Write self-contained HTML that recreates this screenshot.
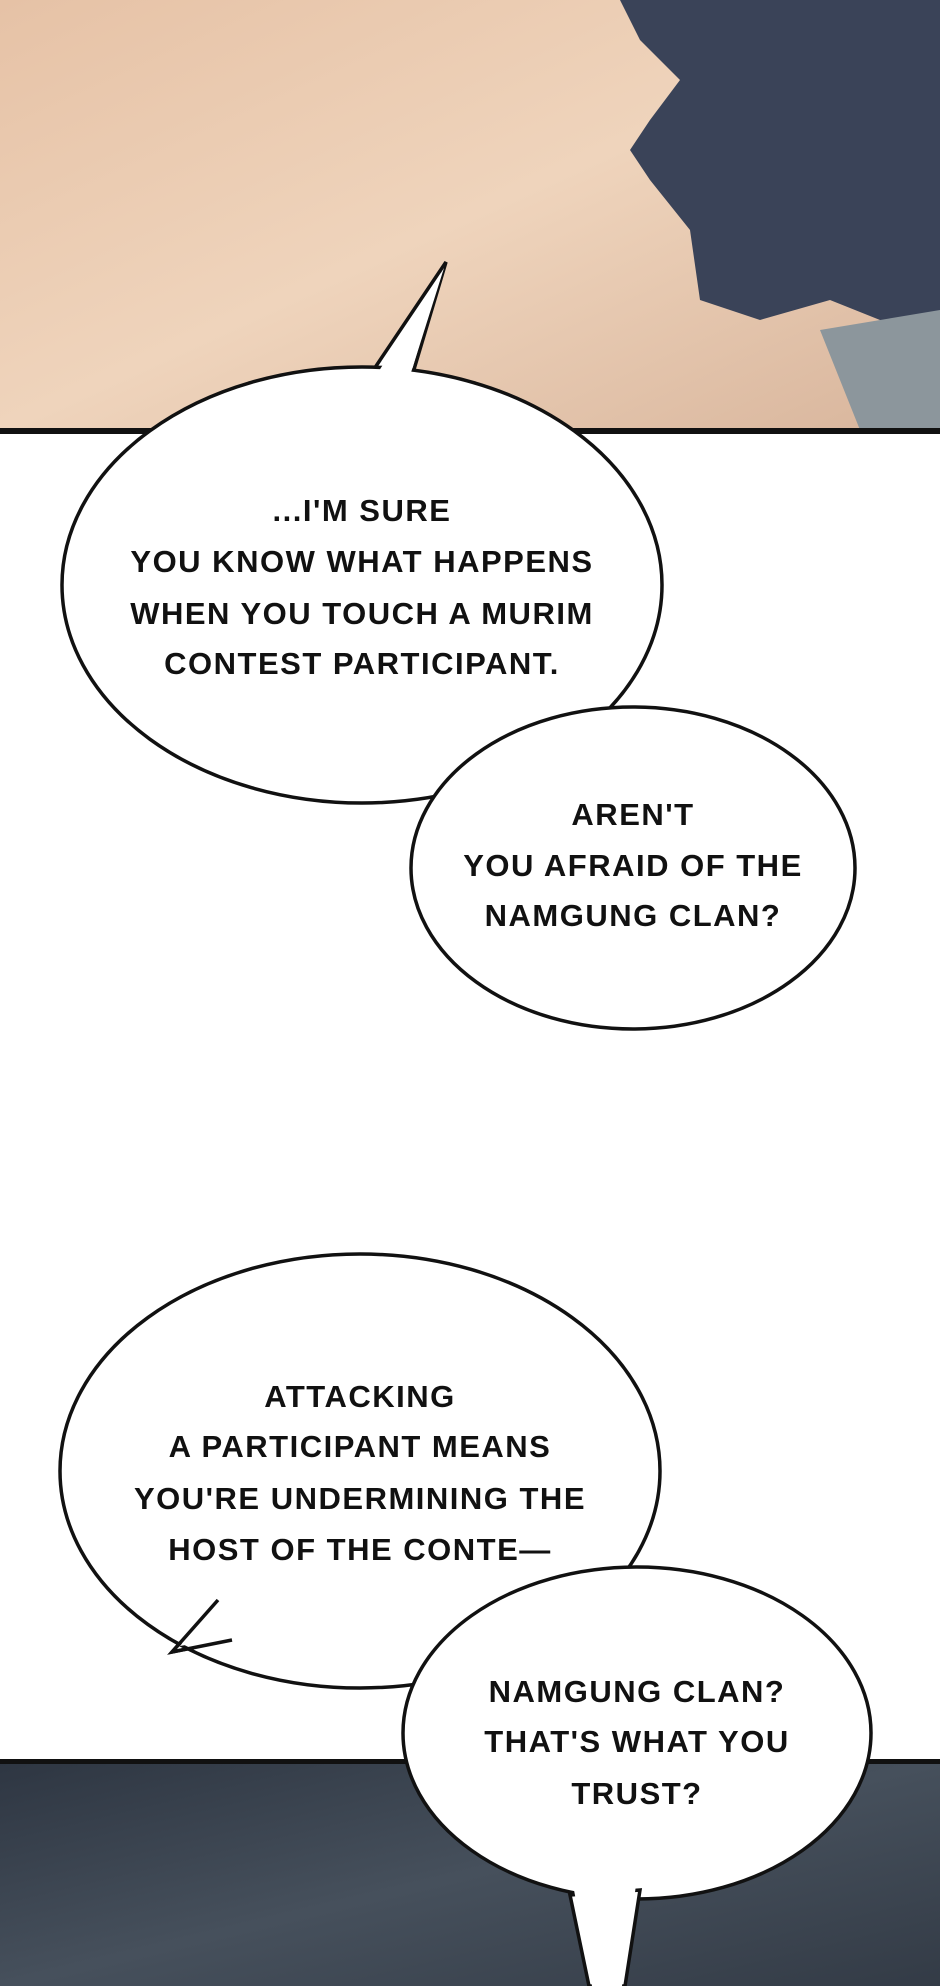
<!DOCTYPE html>
<html><head><meta charset="utf-8"><style>
html,body{margin:0;padding:0;background:#fff}
svg{display:block}
text{font-family:"Liberation Sans",sans-serif;font-size:31px;font-weight:bold;fill:#111;letter-spacing:1.5px;text-anchor:middle;dominant-baseline:middle}
</style></head><body>
<svg width="940" height="1986" viewBox="0 0 940 1986" xmlns="http://www.w3.org/2000/svg">
<defs>
<linearGradient id="skin" x1="0" y1="0" x2="1" y2="1">
<stop offset="0" stop-color="#e6c2a6"/><stop offset="0.5" stop-color="#efd4bc"/><stop offset="1" stop-color="#d8b59c"/>
</linearGradient>
<linearGradient id="dark" x1="0" y1="0" x2="1" y2="1">
<stop offset="0" stop-color="#2e3642"/><stop offset="0.5" stop-color="#46505c"/><stop offset="1" stop-color="#333b46"/>
</linearGradient>
</defs>
<rect x="0" y="0" width="940" height="430" fill="url(#skin)"/>
<path d="M620 0 L940 0 L940 330 L880 320 L830 300 L760 320 L700 300 L690 230 L650 180 L630 150 L650 120 L680 80 L640 40 Z" fill="#3a4358"/>
<path d="M820 330 L940 310 L940 430 L860 430 Z" fill="#8c969c"/>
<rect x="0" y="428" width="940" height="6" fill="#111"/>
<rect x="0" y="1761" width="940" height="225" fill="url(#dark)"/>
<rect x="0" y="1759" width="940" height="5" fill="#111"/>
<g fill="#fff" stroke="#111" stroke-width="3.5">
<path d="M368 378 L446 262 L412 376 Z"/>
<ellipse cx="362" cy="585" rx="300" ry="218"/>
<ellipse cx="633" cy="868" rx="222" ry="161"/>
<path d="M218 1600 L172 1652 L232 1640 Z"/>
<ellipse cx="360" cy="1471" rx="300" ry="217"/>
<ellipse cx="637" cy="1733" rx="234" ry="166"/>
<path d="M570 1895 L589 1986 L625 1986 L640 1890 Z"/>
</g>
<g fill="#fff">
<path d="M372 382 L444 268 L408 382 Z"/>
<path d="M220 1596 L180 1646 L236 1636 L240 1600 Z"/>
<path d="M574 1890 L592 1986 L622 1986 L636 1885 Z"/>
</g>
<path d="M218 1600 L172 1652 L232 1640" fill="none" stroke="#111" stroke-width="3.5"/>
<text x="362" y="513">...I'M SURE</text>
<text x="362" y="564">YOU KNOW WHAT HAPPENS</text>
<text x="362" y="616">WHEN YOU TOUCH A MURIM</text>
<text x="362" y="666">CONTEST PARTICIPANT.</text>
<text x="633" y="817">AREN'T</text>
<text x="633" y="868">YOU AFRAID OF THE</text>
<text x="633" y="918">NAMGUNG CLAN?</text>
<text x="360" y="1399">ATTACKING</text>
<text x="360" y="1449">A PARTICIPANT MEANS</text>
<text x="360" y="1501">YOU'RE UNDERMINING THE</text>
<text x="360" y="1552">HOST OF THE CONTE—</text>
<text x="637" y="1694">NAMGUNG CLAN?</text>
<text x="637" y="1744">THAT'S WHAT YOU</text>
<text x="637" y="1796">TRUST?</text>
</svg>
</body></html>
